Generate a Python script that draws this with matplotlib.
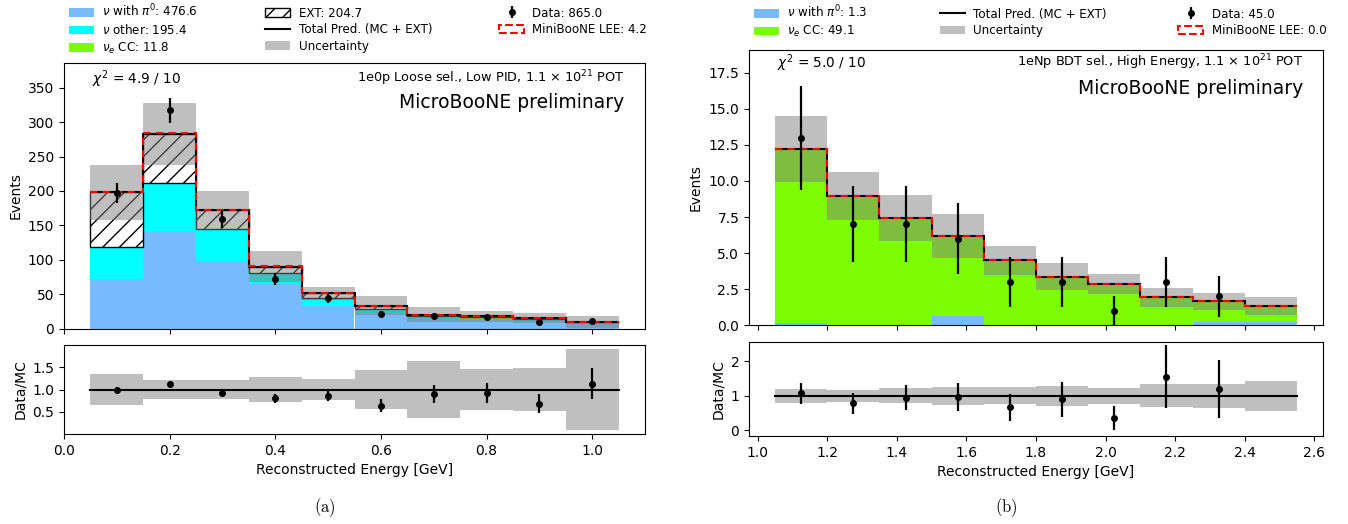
import numpy as np
import matplotlib
matplotlib.use("Agg")
import matplotlib.pyplot as plt
from matplotlib.patches import Patch
from matplotlib.lines import Line2D

# ---------------- data: panel (a) ----------------
edges_a = [0.05, 0.15, 0.25, 0.35, 0.45, 0.55, 0.65, 0.75, 0.85, 0.95, 1.05]
pi0_a = [72, 142, 98, 65, 32.5, 22, 14, 13, 10.5, 7.6]
other_a = [45.5, 69, 45, 14.5, 10.5, 5, 2.5, 1.5, 1.5, 0.4]
nue_a = [0.5, 1, 1, 1, 1, 2, 1.5, 1.5, 1.3, 1.0]
ext_a = [80, 70.7, 28, 9.5, 7, 4, 2, 1.5, 1.3, 0.7]
lee_a = [0.5, 1.5, 1.0, 0.5, 0.4, 0.2, 0.1, 0, 0, 0]
syst_a = [40, 45, 28.5, 22, 9.7, 14, 10.6, 8.2, 7.3, 8.3]
ratio_unc_a = [0.34, 0.22, 0.21, 0.28, 0.235, 0.435, 0.645, 0.46, 0.477, 0.91]
data_a = [197, 317, 159, 72, 44, 21, 18, 16, 10, 11]
data_err_a = [14.0, 17.8, 12.6, 8.5, 6.6, 4.6, 4.2, 4.0, 3.2, 3.3]
chi2_a = r"$\chi^2$ = 4.9 / 10"
sel_a = r"1e0p Loose sel., Low PID, 1.1 $\times$ 10$^{21}$ POT"

# ---------------- data: panel (b) ----------------
edges_b = [1.05, 1.2, 1.35, 1.5, 1.65, 1.8, 1.95, 2.1, 2.25, 2.4, 2.55]
pi0_b = [0.18, 0, 0, 0.67, 0, 0, 0, 0.05, 0.2, 0.2]
nue_b = [12.02, 8.94, 7.44, 5.52, 4.49, 3.36, 2.85, 1.88, 1.47, 1.13]
lee_b = [0, 0, 0, 0, 0, 0, 0, 0, 0, 0]
syst_b = [2.3, 1.68, 1.57, 1.53, 1.03, 0.92, 0.67, 0.65, 0.58, 0.6]
ratio_unc_b = [0.2, 0.17, 0.22, 0.26, 0.24, 0.29, 0.23, 0.33, 0.345, 0.43]
data_b = [13, 7, 7, 6, 3, 3, 1, 3, 2, 0]
data_err_b = [3.6, 2.65, 2.65, 2.45, 1.73, 1.73, 1.0, 1.73, 1.41, 0]
chi2_b = r"$\chi^2$ = 5.0 / 10"
sel_b = r"1eNp BDT sel., High Energy, 1.1 $\times$ 10$^{21}$ POT"

C_PI0 = "#75bbfd"
C_OTHER = "#00ffff"
C_NUE = "#7cfc00"
FS_LEG = 8.6
FS_TICK = 10
FS_LAB = 10

W, H = 1348, 524
fig = plt.figure(figsize=(W / 100, H / 100), dpi=100)


def fx(px):
    return px / W


def fy(py):
    return 1 - py / H


def axes_px(x0, x1, ytop, ybot):
    ax = fig.add_axes([fx(x0), fy(ybot), fx(x1) - fx(x0), (ybot - ytop) / H])
    ax._hpx = ybot - ytop
    return ax


def draw_panel(ax, axr, edges, comps, ext, lee, syst, rel_unc, data, derr,
               chi2, sel, ymax, caption, cap_x, dy_sel, dy_title, dy_chi):
    edges = np.asarray(edges)
    lefts = edges[:-1]
    widths = np.diff(edges)
    centers = lefts + widths / 2
    bottom = np.zeros(len(lefts))
    handles = []
    for vals, color, label in comps:
        vals = np.asarray(vals, float)
        ax.bar(lefts, vals, width=widths, bottom=bottom, align="edge",
               color=color, linewidth=0, zorder=1)
        bottom = bottom + vals
        handles.append(Patch(facecolor=color, label=f"{label}: {vals.sum():.1f}"))
    ext_handle = None
    if ext is not None:
        ext = np.asarray(ext, float)
        ax.bar(lefts, ext, width=widths, bottom=bottom, align="edge",
               facecolor="white", edgecolor="black", hatch="//", linewidth=1.0,
               zorder=1)
        bottom = bottom + ext
        ext_handle = Patch(facecolor="white", edgecolor="black", hatch="//",
                           label=f"EXT: {ext.sum():.1f}")
    total = bottom
    syst = np.asarray(syst, float)
    ax.stairs(total + syst, edges, baseline=total - syst, fill=True,
              color="gray", alpha=0.5, linewidth=0, zorder=2)
    ax.stairs(total, edges, baseline=None, color="black", linewidth=1.5,
              zorder=3)
    lee = np.asarray(lee, float)
    ax.stairs(total + lee, edges, baseline=None, color="red", linewidth=1.5,
              linestyle=(0, (3.5, 2.5)), zorder=4)
    data = np.asarray(data, float)
    derr = np.asarray(derr, float)
    m = data > 0
    eb = ax.errorbar(centers[m], data[m], yerr=derr[m], fmt="o", color="black",
                     markersize=4, elinewidth=1.6, capsize=0, zorder=5)
    ax.set_xlim(edges[0] - 0.05 * (edges[-1] - edges[0]),
                edges[-1] + 0.05 * (edges[-1] - edges[0]))
    ax.set_ylim(0, ymax)
    ax.set_ylabel("Events", fontsize=FS_LAB)
    ax.tick_params(labelsize=FS_TICK, labelbottom=False)
    hp = ax._hpx
    ax.text(0.049, 1 - dy_chi / hp, chi2, transform=ax.transAxes, ha="left",
            va="center", fontsize=9.8)
    ax.text(0.965, 1 - dy_sel / hp, sel, transform=ax.transAxes, ha="right",
            va="center", fontsize=9.3)
    ax.text(0.965, 1 - dy_title / hp, "MicroBooNE preliminary",
            transform=ax.transAxes, ha="right", va="center", fontsize=13.5)

    # ratio
    rel = np.asarray(rel_unc, float)
    axr.stairs(1 + rel, edges, baseline=1 - rel, fill=True, color="gray",
               alpha=0.5, linewidth=0, zorder=1)
    axr.plot([edges[0], edges[-1]], [1, 1], color="black", linewidth=1.5,
             zorder=2)
    ratio = data / total
    rerr = derr / total
    axr.errorbar(centers[m], ratio[m], yerr=rerr[m], fmt="o", color="black",
                 markersize=4, elinewidth=1.6, capsize=0, zorder=3)
    axr.set_xlim(ax.get_xlim())
    axr.set_ylabel("Data/MC", fontsize=FS_LAB)
    axr.set_xlabel("Reconstructed Energy [GeV]", fontsize=FS_LAB)
    axr.tick_params(labelsize=FS_TICK)
    fig.text(fx(cap_x), fy(508), caption, ha="center", va="center",
             fontsize=12, math_fontfamily="cm")

    total_h = Line2D([], [], color="black", linewidth=1.5,
                     label="Total Pred. (MC + EXT)")
    unc_h = Patch(facecolor="gray", alpha=0.5, label="Uncertainty")
    lee_h = Patch(facecolor="white", edgecolor="red", linestyle="--",
                  linewidth=1.5, label=f"MiniBooNE LEE: {lee.sum():.1f}")
    eb.set_label(f"Data: {data.sum():.1f}")
    return handles, ext_handle, total_h, unc_h, eb, lee_h


leg_kw = dict(loc="upper left", frameon=False, fontsize=FS_LEG, borderpad=0,
              borderaxespad=0, handlelength=2.1, handleheight=0.75,
              handletextpad=0.7, labelspacing=0.3, ncol=3)

# panel (a)
ax_a = axes_px(64, 645, 63, 328.5)
axr_a = axes_px(64, 645, 345, 434)
h, exth, toth, unch, ebh, leeh = draw_panel(
    ax_a, axr_a, edges_a,
    [(pi0_a, C_PI0, r"$\nu$ with $\pi^0$"), (other_a, C_OTHER, r"$\nu$ other"),
     (nue_a, C_NUE, r"$\nu_e$ CC")],
    ext_a, lee_a, syst_a, ratio_unc_a, data_a, data_err_a, chi2_a, sel_a,
    386, r"$\mathrm{(a)}$", 325, 15, 40, 16)
axr_a.set_ylim(0.0, 2.0)
axr_a.set_yticks([0.5, 1.0, 1.5])
hl = [h[0], h[1], h[2], exth, toth, unch, ebh, leeh]
fig.legend(handles=hl, labels=[x.get_label() for x in hl],
           bbox_to_anchor=(fx(69), fy(3)), columnspacing=5.6, **leg_kw)

# panel (b)
ax_b = axes_px(749, 1323, 49.5, 325.3)
axr_b = axes_px(749, 1323, 342.3, 436)
h, exth, toth, unch, ebh, leeh = draw_panel(
    ax_b, axr_b, edges_b,
    [(pi0_b, C_PI0, r"$\nu$ with $\pi^0$"), (nue_b, C_NUE, r"$\nu_e$ CC")],
    None, lee_b, syst_b, ratio_unc_b, data_b, data_err_b, chi2_b, sel_b,
    19.1, r"$\mathrm{(b)}$", 1006, 13, 38.5, 14)
axr_b.set_ylim(-0.16, 2.54)
axr_b.set_yticks([0, 1, 2])
hl = [h[0], h[1], toth, unch, ebh, leeh]
fig.legend(handles=hl, labels=[x.get_label() for x in hl],
           bbox_to_anchor=(fx(754), fy(4)), columnspacing=6.0, **leg_kw)

fig.savefig("out.png", dpi=100)
